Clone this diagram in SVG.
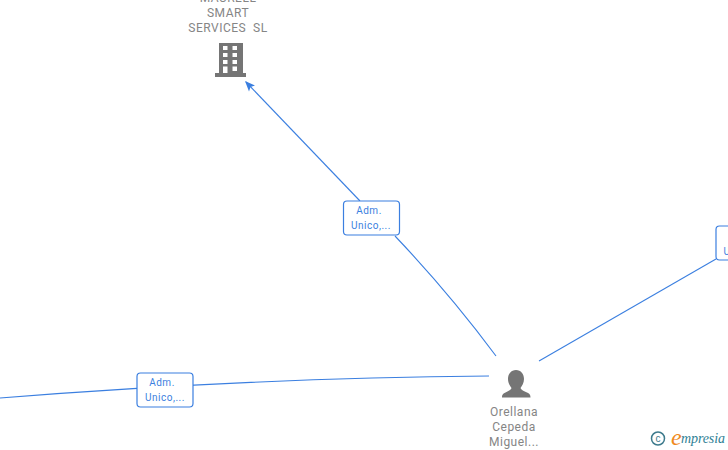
<svg xmlns="http://www.w3.org/2000/svg" width="728" height="450" viewBox="0 0 728 450">
<style>
.lbl{font-family:Roboto,"Liberation Sans",Arial,sans-serif;font-size:12px;fill:#858585;text-anchor:middle;letter-spacing:.5px}
.edge{font-family:Roboto,"Liberation Sans",Arial,sans-serif;font-size:10px;fill:#3b7fe0;text-anchor:middle;letter-spacing:.5px}
.box{fill:#fff;stroke:#3b7fe0;stroke-width:1.2}
.line{fill:none;stroke:#3b7fe0;stroke-width:1.1}
.ico{fill:#757575}
</style>
<g id="connectors">
<path class="line" d="M360 201L246 82"/>
<path d="M245 81L255 85.500L250.500 87L249 91.500Z" fill="#3b7fe0"/>
<path class="line" d="M395 236Q450 294 496 356"/>
<path class="line" d="M539 361L716 259"/>
<path class="line" d="M0 398Q250 378 489 376"/>
</g>
<g id="node-maurell">
<text class="lbl" x="228" y="2">MAURELL</text>
<text class="lbl" x="228" y="17">SMART</text>
<text class="lbl" x="228" y="32" xml:space="preserve">SERVICES  SL</text>
<path class="ico" fill-rule="evenodd" d="M219 43H243V73H246V77H215V73H219ZM223 46V50H227.500V46ZM232.500 46V50H237V46ZM223 53V57H227.500V53ZM232.500 53V57H237V53ZM223 60V64H227.500V60ZM232.500 60V64H237V60ZM223 66.500V73H227.500V66.500ZM232.500 66.500V71H237V66.500Z"/>
</g>
<g id="edge-label-1">
<rect class="box" x="343.500" y="201" width="56" height="34" rx="3.500"/>
<text class="edge" x="369" y="214">Adm.</text>
<text class="edge" x="371" y="229">Unico,...</text>
</g>
<g id="edge-label-2">
<rect class="box" x="137" y="373" width="56" height="34" rx="3.500"/>
<text class="edge" x="162" y="386">Adm.</text>
<text class="edge" x="165" y="401">Unico,...</text>
</g>
<g id="edge-label-3">
<rect class="box" x="716" y="226" width="30" height="34" rx="3.500"/>
<text class="edge" x="727" y="255">U</text>
</g>
<g id="node-orellana">
<path class="ico" d="M516 370C521 370 524 374 524 379C524 383 522 386 520.500 388C521 390 524 391 527 392.500C530 394 530.500 395 530.500 397.500H502C502 395 502.500 394 505.500 392.500C508 391 511 390 511.500 388C510 386 508 383 508 379C508 374 511 370 516 370Z"/>
<text class="lbl" x="514" y="416">Orellana</text>
<text class="lbl" x="514" y="431">Cepeda</text>
<text class="lbl" x="514" y="446">Miguel...</text>
</g>
<g id="logo">
<circle cx="658" cy="438.500" r="6.500" fill="none" stroke="#3d7a8c" stroke-width="1.500"/>
<text x="658" y="442" font-family="Liberation Sans,sans-serif" font-size="10" fill="#3d7a8c" text-anchor="middle">c</text>
<text x="671" y="445" font-family="Liberation Serif,serif" font-style="italic" font-size="24" fill="#f08a1d">e</text>
<text x="681" y="443" font-family="Liberation Serif,serif" font-style="italic" font-size="14" fill="#2f7f95" textLength="44">mpresia</text>
</g>
</svg>
